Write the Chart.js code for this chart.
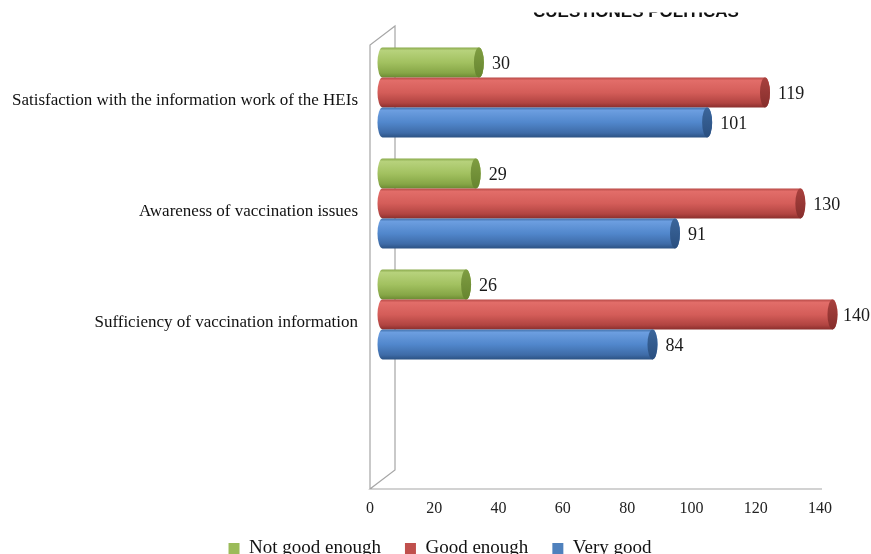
<!DOCTYPE html>
<html>
<head>
<meta charset="utf-8">
<script src="https://cdn.jsdelivr.net/npm/chart.js@4.4.1/dist/chart.umd.min.js"></script>
<style>
  html, body { margin: 0; padding: 0; background: #fff; overflow: hidden; }
  #wrap { width: 871px; height: 554px; overflow: hidden; position: relative; }
  canvas { display: block; }
</style>
</head>
<body>
<div id="wrap"><canvas id="chart" width="871" height="568"></canvas></div>
<script>
// Survey answers per question (last category left empty, as in the layout)
const categories = [
  'Satisfaction with the information work of the HEIs',
  'Awareness of vaccination issues',
  'Sufficiency of vaccination information',
  ''
];
const notGoodEnough = [30, 29, 26, null];
const goodEnough    = [119, 130, 140, null];
const veryGood      = [101, 91, 84, null];
const xTicks = [0, 20, 40, 60, 80, 100, 120, 140];
const headingText = 'CUESTIONES POLÍTICAS';

const SERIF = '"Liberation Serif", "Times New Roman", serif';

// Cylinder shading per series: gradient stops (top → bottom) and end-face colour
const shades = [
  { stops: ['#8aaa4c', '#b7d27c', '#a2c160', '#86a646', '#6b8a33'], face: '#7f9d42', faceLo: '#66852f' },
  { stops: ['#b84a47', '#e26d69', '#d45d59', '#b14441', '#8a2f2d'], face: '#a8413e', faceLo: '#862e2c' },
  { stops: ['#4070aa', '#6c9ee0', '#5187cc', '#3e6ba7', '#2c5283'], face: '#3b669b', faceLo: '#2a4f80' }
];
const stopPos = [0, 0.1, 0.5, 0.85, 1];

// depth of the 3D box (back wall offset)
const DEPTH_X = 25, DEPTH_Y = -19;
// horizontal shift of the legend row
const LEGEND_SHIFT = 30;

const cylinderPlugin = {
  id: 'cylinders',
  afterLayout(chart) {
    if (chart.legend) {
      chart.legend.left += LEGEND_SHIFT;
      chart.legend.right += LEGEND_SHIFT;
    }
  },
  beforeDatasetsDraw(chart) {
    const ctx = chart.ctx;
    const xs = chart.scales.x;
    const area = chart.chartArea;
    const x0 = xs.getPixelForValue(0);
    const xEnd = xs.getPixelForValue(140);

    // back wall + floor
    ctx.save();
    ctx.strokeStyle = '#a6a6a6';
    ctx.lineWidth = 1.2;
    ctx.beginPath();
    ctx.moveTo(x0, area.bottom);
    ctx.lineTo(x0, area.top);
    ctx.lineTo(x0 + DEPTH_X, area.top + DEPTH_Y);
    ctx.lineTo(x0 + DEPTH_X, area.bottom + DEPTH_Y);
    ctx.lineTo(x0, area.bottom);
    ctx.lineTo(xEnd + 2, area.bottom);
    ctx.stroke();
    ctx.restore();

    const dx = DEPTH_X / 2, dy = -8;
    chart.data.datasets.forEach((ds, di) => {
      const meta = chart.getDatasetMeta(di);
      const shade = shades[di];
      meta.data.forEach((el, i) => {
        const v = ds.data[i];
        if (v == null) return;
        const left = el.base + dx;
        const right = el.x + dx;
        const cy = el.y + dy;
        const h = el.height;
        const top = cy - h / 2, bot = cy + h / 2;
        const rx = 5;

        const g = ctx.createLinearGradient(0, top, 0, bot);
        shade.stops.forEach((c, k) => g.addColorStop(stopPos[k], c));

        ctx.save();
        ctx.beginPath();
        ctx.moveTo(right, top);
        ctx.lineTo(left, top);
        ctx.ellipse(left, cy, rx, h / 2, 0, -Math.PI / 2, Math.PI / 2, true);
        ctx.lineTo(right, bot);
        ctx.ellipse(right, cy, rx, h / 2, 0, Math.PI / 2, -Math.PI / 2, true);
        ctx.closePath();
        ctx.fillStyle = g;
        ctx.fill();

        // end face
        const fg = ctx.createLinearGradient(0, top, 0, bot);
        fg.addColorStop(0, shade.face);
        fg.addColorStop(1, shade.faceLo);
        ctx.beginPath();
        ctx.ellipse(right, cy, rx, h / 2, 0, 0, Math.PI * 2);
        ctx.fillStyle = fg;
        ctx.fill();

        // value label
        ctx.font = '18px ' + SERIF;
        ctx.fillStyle = '#1a1a1a';
        ctx.textBaseline = 'middle';
        ctx.textAlign = 'left';
        const txt = String(v);
        const w = ctx.measureText(txt).width;
        const lx = Math.min(right + rx + 8, chart.width - w - 1);
        ctx.fillText(txt, lx, cy + 2);
        ctx.restore();
      });
    });
    return false;
  },
  afterDraw(chart) {
    // heading strip at the top: only the lower edge of the letters shows
    const ctx = chart.ctx;
    ctx.save();
    ctx.beginPath();
    ctx.rect(0, 12.5, chart.width, 5);
    ctx.clip();
    ctx.font = 'bold 17px "Liberation Sans", Arial, sans-serif';
    ctx.fillStyle = '#111';
    ctx.textBaseline = 'alphabetic';
    ctx.textAlign = 'left';
    ctx.fillText(headingText, 533, 17);
    ctx.restore();
  }
};

new Chart(document.getElementById('chart'), {
  type: 'bar',
  data: {
    labels: categories,
    datasets: [
      { label: 'Not good enough', data: notGoodEnough, backgroundColor: '#9bbb59' },
      { label: 'Good enough',     data: goodEnough,    backgroundColor: '#c0504d' },
      { label: 'Very good',       data: veryGood,      backgroundColor: '#4f81bd' }
    ]
  },
  options: {
    indexAxis: 'y',
    responsive: false,
    animation: false,
    devicePixelRatio: 1,
    categoryPercentage: 0.81,
    barPercentage: 1.0,
    layout: { padding: { top: 45, right: 51, left: 0, bottom: 0 } },
    scales: {
      x: {
        min: 0, max: 140,
        afterBuildTicks(scale) { scale.ticks = xTicks.map(v => ({ value: v })); },
        afterFit(scale) { scale.height = 26; },
        grid: { display: false, drawTicks: false },
        border: { display: false },
        ticks: { padding: 10, color: '#222', font: { family: SERIF, size: 16 } }
      },
      y: {
        grid: { display: false, drawTicks: false },
        border: { display: false },
        afterFit(scale) { scale.width = 370; },
        ticks: { padding: 12, color: '#111', font: { family: SERIF, size: 17 } }
      }
    },
    plugins: {
      tooltip: { enabled: false },
      legend: {
        position: 'bottom',
        labels: {
          boxWidth: 11, boxHeight: 11, padding: 24,
          color: '#111',
          font: { family: SERIF, size: 19 }
        }
      }
    }
  },
  plugins: [cylinderPlugin]
});
</script>
</body>
</html>
